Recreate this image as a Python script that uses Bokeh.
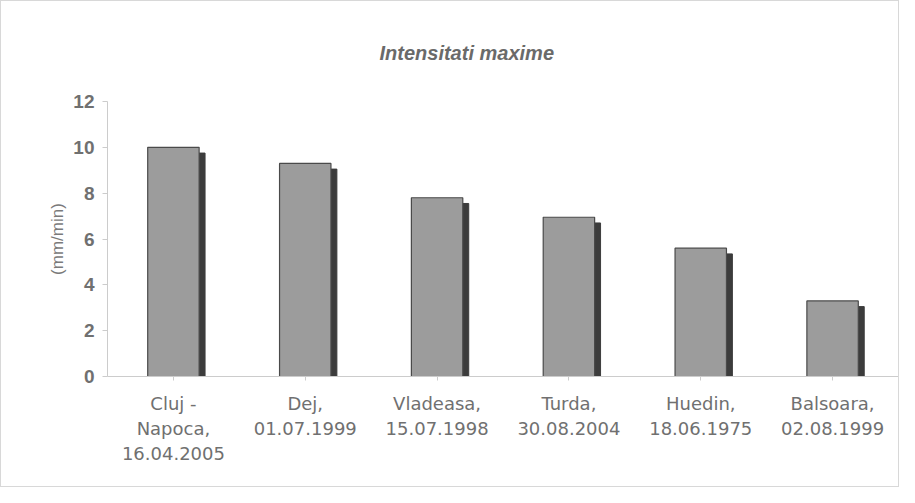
from bokeh.plotting import figure
from bokeh.models import Range1d, FactorRange, ColumnDataSource
from bokeh.transform import dodge
from bokeh.embed import file_html
from bokeh.resources import INLINE

labels = ["Cluj -\nNapoca,\n16.04.2005", "Dej,\n01.07.1999", "Vladeasa,\n15.07.1998",
          "Turda,\n30.08.2004", "Huedin,\n18.06.1975", "Balsoara,\n02.08.1999"]
values = [10.0, 9.3, 7.8, 6.95, 5.6, 3.3]
y_ticks = [0, 2, 4, 6, 8, 10, 12]
title_text = "Intensitati maxime"

src = ColumnDataSource(dict(x=labels, top=values, shadow=[v - 0.25 for v in values]))

p = figure(width=899, height=487, output_backend="svg", toolbar_location=None,
           x_range=FactorRange(*labels, range_padding=0), y_range=Range1d(0, 12),
           min_border_left=106, min_border_right=2, min_border_top=100, min_border_bottom=112,
           title=title_text)
p.styles = {"border": "1px solid #d8d8d8"}
p.title.align = "left"
p.title.text_font = "Liberation Sans"
p.title.text_font_style = "bold italic"
p.title.text_font_size = "20px"
p.title.text_color = "#6a6a6a"
p.title.offset = 272
p.title.standoff = 76
p.title.text_line_height = 1.0

p.vbar(x=dodge("x", 0.045, range=p.x_range), top="shadow", width=0.39, source=src,
       fill_color="#3c3c3c", line_color="#3c3c3c")
p.vbar(x="x", top="top", width=0.39, source=src,
       fill_color="#9c9c9c", line_color="#4a4a4a", line_width=1.2)

p.xgrid.grid_line_color = None
p.ygrid.grid_line_color = None
p.outline_line_color = None

p.yaxis.ticker = y_ticks
p.yaxis.axis_label = "(mm/min)"
p.yaxis.axis_label_text_font = "Liberation Sans"
p.yaxis.axis_label_text_font_style = "normal"
p.yaxis.axis_label_text_font_size = "17px"
p.yaxis.axis_label_text_color = "#7a7a7a"
p.yaxis.axis_label_standoff = 3

for ax in (p.xaxis, p.yaxis):
    ax.axis_line_color = "#cccccc"
    ax.major_tick_line_color = "#cccccc"
    ax.minor_tick_line_color = None
    ax.major_label_text_color = "#707070"
p.yaxis.major_label_text_font = "Liberation Sans"
p.yaxis.major_label_text_font_size = "19px"
p.yaxis.major_label_text_font_style = "bold"
p.yaxis.major_tick_in = 0
p.yaxis.major_tick_out = 5
p.yaxis.major_label_standoff = 8
p.xaxis.major_label_text_font = "DejaVu Sans"
p.xaxis.major_label_text_font_size = "18px"
p.xaxis.major_label_text_font_style = "normal"
p.xaxis.major_tick_in = 0
p.xaxis.major_tick_out = 4
p.xaxis.major_label_standoff = 12

open("out.html", "w").write(file_html(p, INLINE))
